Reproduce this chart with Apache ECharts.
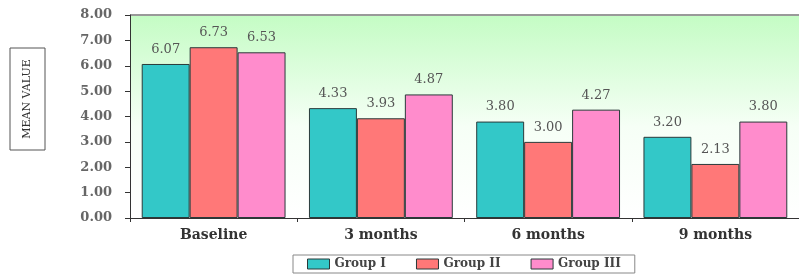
<!DOCTYPE html>
<html><head><meta charset="utf-8">
<script src="https://cdn.jsdelivr.net/npm/echarts@6/dist/echarts.min.js"></script>
<style>html,body{margin:0;padding:0;background:#fff}#c{width:799px;height:276px}</style>
</head><body><div id="c"></div>
<script>
var categories = ['Baseline', '3 months', '6 months', '9 months'];
var seriesNames = ['Group I', 'Group II', 'Group III'];
var group1 = [6.07, 4.33, 3.80, 3.20];
var group2 = [6.73, 3.93, 3.00, 2.13];
var group3 = [6.53, 4.87, 4.27, 3.80];
var colors = ['#33c8c8', '#ff7878', '#ff8ccc'];
var yTitle = 'MEAN VALUE';

var font = 'DejaVu Serif, serif';
var chart = echarts.init(document.getElementById('c'));
function mk(name, data, i) {
  return {
    name: name, type: 'bar', data: data,
    barGap: '0%', barCategoryGap: '14%',
    itemStyle: { color: colors[i], borderColor: '#2a3a3a', borderWidth: 1 },
    label: { show: true, position: 'top', distance: 8, formatter: function (p) { return p.value.toFixed(2); },
      fontFamily: font, fontSize: 13, color: '#555' }
  };
}
chart.setOption({
  animation: false,
  grid: { left: 130, right: -3, top: 15, bottom: 58, show: true,
    borderWidth: 0,
    backgroundColor: { type: 'linear', x: 0, y: 0, x2: 0, y2: 1,
      colorStops: [{ offset: 0, color: '#c4fcc4' }, { offset: 0.55, color: '#f6fff6' }, { offset: 1, color: '#ffffff' }] } },
  legend: { bottom: 3, left: 293, itemWidth: 22, itemHeight: 10, itemGap: 30, icon: 'rect',
    borderColor: '#888', borderWidth: 1, padding: [3, 14], borderRadius: 0,
    itemStyle: { borderColor: '#2a3a3a', borderWidth: 1 },
    textStyle: { fontFamily: font, fontSize: 12, color: '#444', fontWeight: 'bold' },
    data: seriesNames },
  xAxis: { type: 'category', data: categories,
    axisLine: { lineStyle: { color: '#333', width: 1 } },
    axisTick: { show: true, length: 4, lineStyle: { color: '#333' } },
    axisLabel: { fontFamily: font, fontSize: 14, fontWeight: 'bold', color: '#333', margin: 10 } },
  yAxis: { type: 'value', min: 0, max: 8, interval: 1,
    axisLine: { show: true, lineStyle: { color: '#333' } },
    axisTick: { show: true, length: 5, lineStyle: { color: '#333' } },
    splitLine: { show: false },
    axisLabel: { fontFamily: font, fontSize: 13, fontWeight: 'bold', color: '#666', margin: 18,
      formatter: function (v) { return v.toFixed(2); } } },
  graphic: [
    { type: 'line', shape: { x1: 130, y1: 15, x2: 799, y2: 15 }, style: { stroke: '#999', lineWidth: 2 } },
    { type: 'rect', shape: { x: 10, y: 48, width: 35, height: 102 }, style: { fill: '#fff', stroke: '#555', lineWidth: 1 } },
    { type: 'text', x: 27, y: 99, rotation: Math.PI / 2,
      style: { text: yTitle, fontFamily: font, fontSize: 11, fill: '#333', align: 'center', verticalAlign: 'middle' } }
  ],
  series: [mk(seriesNames[0], group1, 0), mk(seriesNames[1], group2, 1), mk(seriesNames[2], group3, 2)]
});
</script></body></html>
